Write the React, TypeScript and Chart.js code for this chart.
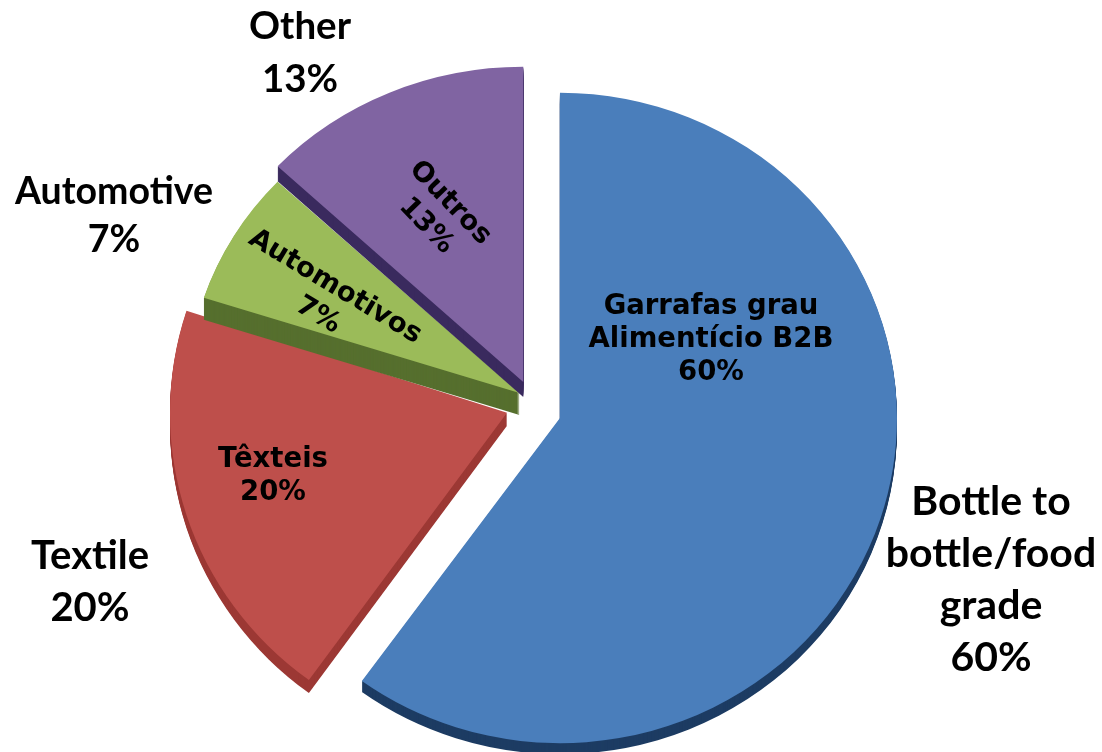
import React, { useEffect, useRef } from "react";
import { Chart, registerables, ArcElement } from "chart.js";

Chart.register(...registerables);

const categories = ["Bottle to bottle/food grade", "Textile", "Automotive", "Other"];
const shares = [60, 20, 7, 13];
const sliceColors = ["#4a7ebb", "#be4f4b", "#9bbb59", "#8064a2"];
const rimColors = ["#1d3c63", "#9c3834", "#566f2e", "#3a2a5e"];

// Per-slice pseudo-3D look: explosion distance, vertical squash, lift, thickness, size
const explode = [29.4, 26.3, 14.5, 22];
const tilt = [0.965, 0.98, 0.93, 0.935];
const lift = [9.7, 5.4, 0.4, 1.3];
const depth = [11, 13, 22, 15];
const shrink = [1, 1, 0.985, 1];

const lato = (px: number) => `bold ${px}px Lato, sans-serif`;
const innerFont = "bold 27.5px 'DejaVu Sans', sans-serif";

type Label = { lines: string[]; x: number; y: number; lh: number; font: string; rot?: number };

const outerLabels: Label[] = [
  { lines: ["Bottle to", "bottle/food", "grade", "60%"], x: 991, y: 502, lh: 52, font: lato(41) },
  { lines: ["Textile", "20%"], x: 90, y: 556, lh: 52, font: lato(40) },
  { lines: ["Automotive", "7%"], x: 114, y: 192, lh: 48, font: lato(37.5) },
  { lines: ["Other", "13%"], x: 300, y: 27, lh: 53, font: lato(38.5) },
];

const innerLabels: Label[] = [
  { lines: ["Garrafas grau", "Alimentício B2B", "60%"], x: 711, y: 307, lh: 33, font: innerFont },
  { lines: ["Têxteis", "20%"], x: 273, y: 460, lh: 33, font: innerFont },
  { lines: ["Automotivos", "7%"], x: 335, y: 287, lh: 33, font: innerFont, rot: 31 },
  { lines: ["Outros", "13%"], x: 450, y: 203, lh: 33, font: innerFont, rot: 46 },
];

function applyTilt(ctx: CanvasRenderingContext2D, arc: any, i: number, down = 0) {
  const mid = (arc.startAngle + arc.endAngle) / 2;
  ctx.translate(
    arc.x + explode[i] * Math.cos(mid),
    arc.y + tilt[i] * explode[i] * Math.sin(mid) + lift[i] + down
  );
  ctx.scale(shrink[i], tilt[i] * shrink[i]);
  ctx.translate(-arc.x, -arc.y);
}

const tiltPlugin = {
  id: "tiltedSlices",
  afterDatasetsUpdate(chart: any) {
    const arcs = chart.getDatasetMeta(0).data;
    arcs.forEach((arc: any, i: number) => {
      arc.draw = (ctx: CanvasRenderingContext2D) => {
        for (let k = depth[i]; k >= 1; k--) {
          ctx.save();
          applyTilt(ctx, arc, i, k);
          ctx.fillStyle = rimColors[i];
          ctx.beginPath();
          ctx.moveTo(arc.x, arc.y);
          ctx.arc(arc.x, arc.y, arc.outerRadius, arc.startAngle, arc.endAngle);
          ctx.closePath();
          ctx.fill();
          ctx.restore();
        }
        ctx.save();
        applyTilt(ctx, arc, i);
        ArcElement.prototype.draw.call(arc, ctx);
        ctx.restore();
      };
    });
  },
};

const labelPlugin = {
  id: "sliceLabels",
  afterDatasetsDraw(chart: any) {
    const ctx: CanvasRenderingContext2D = chart.ctx;
    ctx.save();
    ctx.fillStyle = "#000";
    ctx.textAlign = "center";
    ctx.textBaseline = "middle";
    [...outerLabels, ...innerLabels].forEach((l) => {
      ctx.save();
      ctx.font = l.font;
      ctx.translate(l.x, l.y);
      ctx.rotate(((l.rot || 0) * Math.PI) / 180);
      l.lines.forEach((t, n) => ctx.fillText(t, 0, n * l.lh));
      ctx.restore();
    });
    ctx.restore();
  },
};

export default function App() {
  const ref = useRef<HTMLCanvasElement>(null);
  useEffect(() => {
    document.body.style.margin = "0";
    document.body.style.background = "#fff";
    const chart = new Chart(ref.current!, {
      type: "pie",
      data: {
        labels: categories,
        datasets: [
          {
            data: shares,
            backgroundColor: sliceColors,
            borderWidth: 0,
            clip: false,
          } as any,
        ],
      },
      options: {
        responsive: false,
        animation: false,
        radius: 337,
        layout: { padding: { top: 47, right: 38 } },
        plugins: { legend: { display: false }, tooltip: { enabled: false } },
      } as any,
      plugins: [tiltPlugin, labelPlugin],
    });
    return () => chart.destroy();
  }, []);
  return <canvas ref={ref} width={1102} height={752} style={{ display: "block" }} />;
}
